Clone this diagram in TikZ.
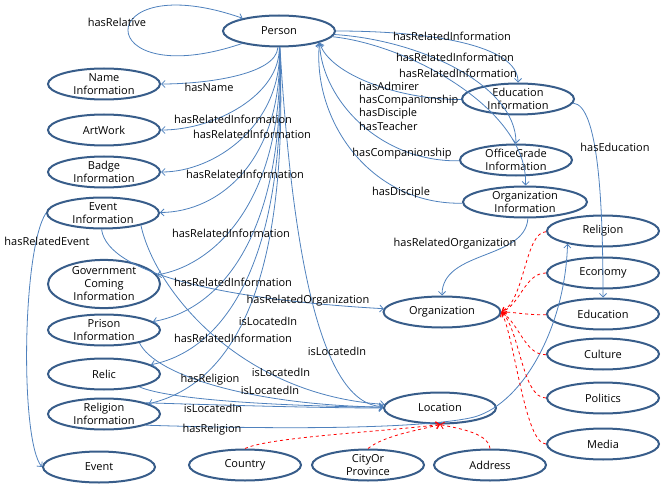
\documentclass[tikz,border=0pt]{standalone}
\usepackage{fontspec}
\setmainfont{Open Sans}
\usetikzlibrary{arrows.meta,shapes.geometric}
\definecolor{nodeblue}{RGB}{56,93,138}
\definecolor{edgeblue}{RGB}{79,129,189}
\begin{document}
\begin{tikzpicture}[x=1pt,y=-1pt,
  ent/.style={ellipse, draw=nodeblue, line width=2pt, inner sep=0pt, minimum width=112pt, minimum height=31pt, align=center, font=\fontsize{11}{13}\selectfont},
  lbl/.style={font=\fontsize{11}{13}\selectfont, inner sep=0pt},
  rel/.style={draw=edgeblue, line width=0.8pt, -{Straight Barb[length=3.5pt,width=7pt]}},
  sub/.style={draw=red, dashed, line width=0.8pt, -{Straight Barb[length=3.5pt,width=7pt]}}]
\useasboundingbox (0,0) rectangle (664,492);
% nodes
\node[ent] (person) at (279,31) {Person};
\node[ent] (name) at (104,84) {Name\\Information};
\node[ent] (art) at (104,130) {ArtWork};
\node[ent] (badge) at (104,172) {Badge\\Information};
\node[ent] (evinfo) at (103,213) {Event\\Information};
\node[ent, minimum height=42pt] (gov) at (104,284) {Government\\Coming\\Information};
\node[ent] (prison) at (104,330) {Prison\\Information};
\node[ent] (relic) at (104,374) {Relic};
\node[ent] (relinfo) at (104,414) {Religion\\Information};
\node[ent] (event) at (99,467) {Event};
\node[ent] (country) at (245,465) {Country};
\node[ent] (city) at (368,465) {CityOr\\Province};
\node[ent] (address) at (490,465) {Address};
\node[ent] (location) at (440,408) {Location};
\node[ent, minimum width=117pt] (org) at (442,312) {Organization};
\node[ent] (eduinfo) at (518,99) {Education\\Information};
\node[ent] (office) at (516,160) {OfficeGrade\\Information};
\node[ent, minimum width=124pt] (orginfo) at (525,202) {Organization\\Information};
\node[ent] (religion) at (603,231) {Religion};
\node[ent] (economy) at (603,273) {Economy};
\node[ent] (education) at (603,314) {Education};
\node[ent] (culture) at (603,354) {Culture};
\node[ent] (politics) at (603,398) {Politics};
\node[ent] (media) at (603,444) {Media};
% blue relations
\draw[rel] (person) .. controls (90,95) and (90,-35) .. (person);
\draw[rel] (person) .. controls (276,75) and (205,84) .. (name);
\draw[rel] (person) .. controls (280,95) and (215,130) .. (art);
\draw[rel] (person) .. controls (282,125) and (215,172) .. (badge);
\draw[rel] (person) .. controls (283,160) and (220,212) .. (evinfo);
\draw[rel] (person) .. controls (285,200) and (215,265) .. (gov);
\draw[rel] (person) .. controls (287,235) and (220,310) .. (prison);
\draw[rel] (person) .. controls (288,260) and (225,350) .. (relic);
\draw[rel] (person) .. controls (290,290) and (230,385) .. (relinfo);
\draw[rel] (person) .. controls (292,250) and (320,405) .. (location);
\draw[rel] (evinfo.-18) .. controls (155,290) and (240,395) .. (location);
\draw[rel] (evinfo.-95) .. controls (108,275) and (230,300) .. (org);
\draw[rel] (prison.-20) .. controls (155,375) and (250,405) .. (location);
\draw[rel] (relic.-20) .. controls (170,400) and (280,406) .. (location);
\draw[rel] (relinfo.15) .. controls (250,406) and (330,408) .. (location);
\draw[rel] (relinfo.-15) .. controls (300,430) and (420,428) .. (470,418) .. controls (520,408) and (565,330) .. (religion.200);
\draw[rel] (evinfo.west) .. controls (22,250) and (20,440) .. (event.west);
\draw[rel] (person) .. controls (430,31) and (518,45) .. (eduinfo);
\draw[rel] (person) .. controls (420,40) and (516,85) .. (office);
\draw[rel] (person) .. controls (410,45) and (528,110) .. (orginfo);
\draw[rel] (eduinfo) .. controls (400,100) and (330,75) .. (person.-16);
\draw[rel] (office) .. controls (380,162) and (322,100) .. (person.-16);
\draw[rel] (orginfo) .. controls (370,205) and (312,120) .. (person.-16);
\draw[rel] (orginfo.-80) .. controls (525,260) and (442,250) .. (org);
\draw[rel] (eduinfo) .. controls (598,105) and (603,200) .. (education);
% red dashed
\draw[sub] (religion) .. controls (525,232) and (525,300) .. (org.east);
\draw[sub] (economy) .. controls (525,273) and (520,305) .. (org.east);
\draw[sub] (education) .. controls (525,315) and (515,312) .. (org.east);
\draw[sub] (culture) .. controls (525,355) and (520,325) .. (org.east);
\draw[sub] (politics) .. controls (522,398) and (520,330) .. (org.east);
\draw[sub] (media) .. controls (525,444) and (515,340) .. (org.east);
\draw[sub] (country.north) .. controls (270,437) and (380,432) .. (location.south);
\draw[sub] (city.north) .. controls (385,435) and (420,430) .. (location.south);
\draw[sub] (address.north) .. controls (488,432) and (455,428) .. (location.south);
% labels
\node[lbl] (l1) at (117,22) {hasRelative};
\node[lbl] (l2) at (209,87) {hasName};
\node[lbl] (l3) at (233,119) {hasRelatedInformation};
\node[lbl] (l4) at (252,134) {hasRelatedInformation};
\node[lbl] (l5) at (245,174) {hasRelatedInformation};
\node[lbl] (l6) at (231,233) {hasRelatedInformation};
\node[lbl] (l7) at (233,282) {hasRelatedInformation};
\node[lbl] (l8) at (308,301) {hasRelatedOrganization};
\node[lbl] (l9) at (268,321) {isLocatedIn};
\node[lbl] (l10) at (233,338) {hasRelatedInformation};
\node[lbl] (l11) at (337,351) {isLocatedIn};
\node[lbl] (l12) at (281,372) {isLocatedIn};
\node[lbl] (l13) at (210,380) {hasReligion};
\node[lbl] (l14) at (270,390) {isLocatedIn};
\node[lbl] (l15) at (213,408) {isLocatedIn};
\node[lbl] (l16) at (212,430) {hasReligion};
\node[lbl] (l17) at (47,241) {hasRelatedEvent};
\node[lbl] (l18) at (452,36) {hasRelatedInformation};
\node[lbl] (l19) at (455,57) {hasRelatedInformation};
\node[lbl] (l20) at (458,73) {hasRelatedInformation};
\node[lbl, anchor=west, align=left, font=\fontsize{11}{13.4}\selectfont] (l21) at (359,106) {hasAdmirer\\hasCompanionship\\hasDisciple\\hasTeacher};
\node[lbl] (l22) at (402,154) {hasCompanionship};
\node[lbl] (l23) at (401,193) {hasDisciple};
\node[lbl] (l24) at (615,147) {hasEducation};
\node[lbl] (l25) at (455,244) {hasRelatedOrganization};
\end{tikzpicture}
\end{document}
